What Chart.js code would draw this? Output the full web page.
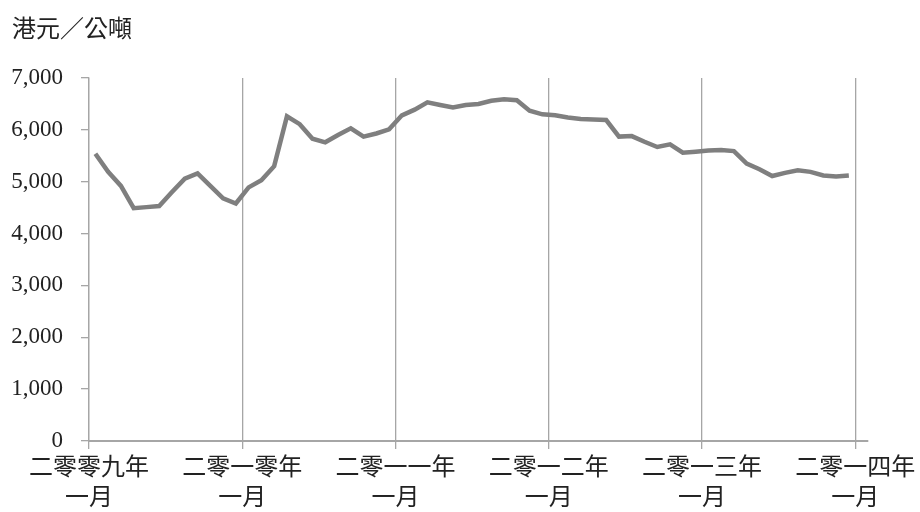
<!DOCTYPE html>
<html>
<head>
<meta charset="utf-8">
<title>港元／公噸</title>
<script src="https://cdn.jsdelivr.net/npm/chart.js@4.4.1/dist/chart.umd.min.js"></script>
<style>
  html, body { margin: 0; padding: 0; background: #ffffff; }
  #wrap { width: 920px; height: 512px; position: relative; }
</style>
</head>
<body>
<div id="wrap"><canvas id="priceChart"></canvas></div>
<script>
// 每月價格（港元／公噸），由一月至十二月
const prices2009 = [5540, 5190, 4920, 4490, 4510, 4530, 4800, 5060, 5160, 4920, 4680, 4580];
const prices2010 = [4890, 5030, 5300, 6260, 6110, 5830, 5760, 5900, 6030, 5870, 5930, 6010];
const prices2011 = [6280, 6390, 6530, 6480, 6430, 6480, 6500, 6560, 6590, 6570, 6370, 6300];
const prices2012 = [6280, 6240, 6210, 6200, 6190, 5870, 5880, 5770, 5670, 5720, 5560, 5580];
const prices2013 = [5600, 5610, 5590, 5350, 5240, 5110, 5170, 5220, 5190, 5120, 5100, 5120];

// 每年一月的刻度標籤
const yearLabels = ["二零零九年", "二零一零年", "二零一一年", "二零一二年", "二零一三年", "二零一四年"];
const monthLabel = "一月";
const yTicks = [0, 1000, 2000, 3000, 4000, 5000, 6000, 7000];
const unitLabel = "港元／公噸";

const allPrices = [].concat(prices2009, prices2010, prices2011, prices2012, prices2013);
// 每個月佔一格，數據點畫在格子中間
const points = allPrices.map((v, i) => ({ x: i + 0.5, y: v }));
const monthCount = yearLabels.length * 12 - 11;

const serif = "'Liberation Serif', 'Noto Sans CJK TC', serif";
const axisGrey = "#a6a6a6";

// 左上角的單位
const unitPlugin = {
  id: "unitLabel",
  afterDraw(chart) {
    const ctx = chart.ctx;
    ctx.save();
    ctx.font = "24px " + serif;
    ctx.fillStyle = "#222222";
    ctx.textAlign = "left";
    ctx.textBaseline = "middle";
    ctx.fillText(unitLabel, 12, 31);
    ctx.restore();
  }
};

new Chart(document.getElementById("priceChart"), {
  type: "line",
  data: {
    datasets: [{
      data: points,
      borderColor: "#7f7f7f",
      borderWidth: 4.5,
      pointRadius: 0,
      tension: 0,
      fill: false
    }]
  },
  options: {
    responsive: true,
    maintainAspectRatio: false,
    animation: false,
    layout: { padding: { top: 78, right: 52, bottom: 0, left: 0 } },
    plugins: {
      legend: { display: false },
      tooltip: { enabled: false }
    },
    scales: {
      x: {
        type: "linear",
        min: 0,
        max: monthCount,
        afterBuildTicks: (scale) => {
          scale.ticks = yearLabels.map((_, i) => ({ value: i * 12 }));
        },
        afterFit: (scale) => {
          scale.height = 71;
          scale.paddingLeft = 0;
          scale.paddingRight = 0;
        },
        grid: {
          color: axisGrey,
          lineWidth: 1.3,
          drawTicks: true,
          tickLength: 8
        },
        border: { color: axisGrey, width: 2 },
        ticks: {
          autoSkip: false,
          maxRotation: 0,
          padding: 5,
          color: "#222222",
          font: { family: serif, size: 24, lineHeight: 1.25 },
          callback: (value) => [yearLabels[Math.round(value / 12)], monthLabel]
        }
      },
      y: {
        min: 0,
        max: 7000,
        afterBuildTicks: (scale) => {
          scale.ticks = yTicks.map((v) => ({ value: v }));
        },
        afterFit: (scale) => { scale.width = 89; },
        grid: {
          drawOnChartArea: false,
          drawTicks: true,
          tickLength: 8,
          color: axisGrey,
          lineWidth: 1.3
        },
        border: { color: axisGrey, width: 1.3 },
        ticks: {
          padding: 18,
          color: "#222222",
          font: { family: serif, size: 23 },
          callback: (value) => value.toLocaleString("en-US")
        }
      }
    }
  },
  plugins: [unitPlugin]
});
</script>
</body>
</html>
